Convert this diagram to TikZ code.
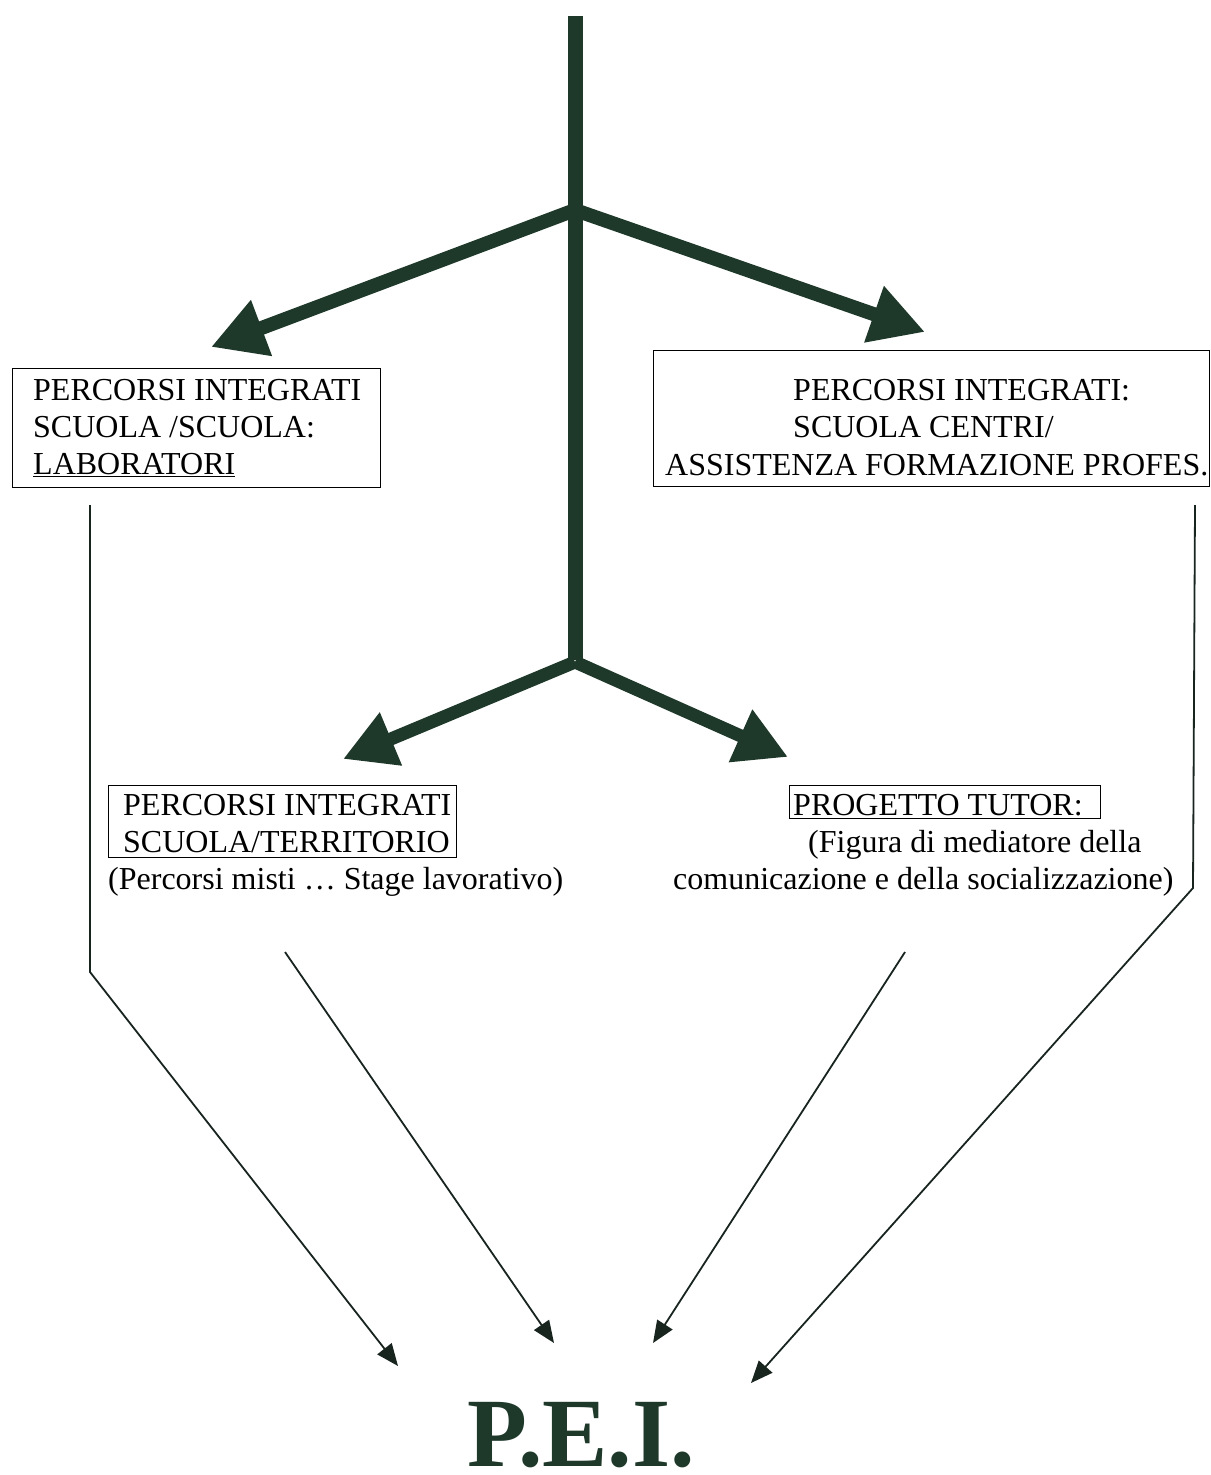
\documentclass[tikz,border=0pt]{standalone}
\usepackage{fontspec}
\setmainfont{Liberation Serif}
\usepackage{tikz}
\usetikzlibrary{positioning}
\usetikzlibrary{arrows.meta}
\definecolor{peigreen}{RGB}{30,56,42}
\definecolor{thinline}{RGB}{24,36,30}

\begin{document}
\begin{tikzpicture}
[x=1pt,y=-1pt,
txt/.style={font=\fontsize{32}{37}\selectfont,inner sep=0pt,anchor=base west},
lines/.style={txt,align=left},
frame/.style={draw=black,line width=1.3pt,inner sep=0pt,anchor=north west},
bigarrow/.style={draw=peigreen,line width=14pt,-{Triangle[length=54pt,width=56pt]}},
smallarrow/.style={draw=peigreen,line width=13pt,-{Triangle[length=52pt,width=54pt]}},
thinarrow/.style={draw=thinline,line width=1.8pt,-{Triangle[length=22pt,width=18pt]}}]
\useasboundingbox (0,0) rectangle (1210,1475);

\coordinate (top) at (575,16);
\coordinate (up) at (575,210);
\coordinate (low) at (575,660);
\coordinate (labtip) at (211,347);
\coordinate (cfptip) at (925,332);
\coordinate (terrtip) at (343,759);
\coordinate (tuttip) at (788,757);

\draw [draw=peigreen,line width=15pt] (top) -- (low);
\draw [bigarrow] (up) -- (labtip);
\draw [bigarrow] (up) -- (cfptip);
\draw [smallarrow] ([yshift=-2pt]low) -- (terrtip);
\draw [smallarrow] ([yshift=-2pt]low) -- (tuttip);

% boxes, multi-line nodes sit on the baseline of their last line
\node[frame,minimum width=368pt,minimum height=119pt] (labbox) at (12,368) {};
\node[lines] (lab) at (33,474) {PERCORSI INTEGRATI\\SCUOLA /SCUOLA:\\\underline{LABORATORI}};

\node[frame,minimum width=556pt,minimum height=136pt] (cfpbox) at (653,350) {};
\node[lines] (cfp) at (793,437) {PERCORSI INTEGRATI:\\SCUOLA CENTRI/};
\node[txt] (cfp3) at (665,475) {ASSISTENZA FORMAZIONE PROFES.};

\node[frame,minimum width=348pt,minimum height=72pt] (terrbox) at (108,785) {};
\node[lines] (terr) at (123,852) {PERCORSI INTEGRATI\\SCUOLA/TERRITORIO};
\node[txt] (terr3) at (108,889) {(Percorsi misti … Stage lavorativo)};

\node[frame,minimum width=311pt,minimum height=33pt] (tutbox) at (789,785) {};
\node[txt] (tut) at (793,815) {PROGETTO TUTOR:};
\node[txt] (tut2) at (808,852) {(Figura di mediatore della};
\node[txt] (tut3) at (673,889) {comunicazione e della socializzazione)};

\node[font=\fontsize{98}{110}\selectfont\bfseries,text=peigreen,inner sep=0pt,anchor=base,text depth=0pt] (pei) at (581,1466) {P.E.I.};

\coordinate (labfoot) at (90,505);
\coordinate (labbend) at (90,972);
\coordinate (peiL) at (398,1366);
\coordinate (terrfoot) at (285,952);
\coordinate (peiML) at (554,1343);
\coordinate (tutfoot) at (905,952);
\coordinate (peiMR) at (653,1343);
\coordinate (cfpfoot) at (1195,505);
\coordinate (cfpbend) at (1193,888);
\coordinate (peiR) at (751,1383);

\draw [thinarrow] (labfoot) -- (labbend) -- (peiL);
\draw [thinarrow] (terrfoot) -- (peiML);
\draw [thinarrow] (tutfoot) -- (peiMR);
\draw [thinarrow] (cfpfoot) -- (cfpbend) -- (peiR);
\end{tikzpicture}
\end{document}
